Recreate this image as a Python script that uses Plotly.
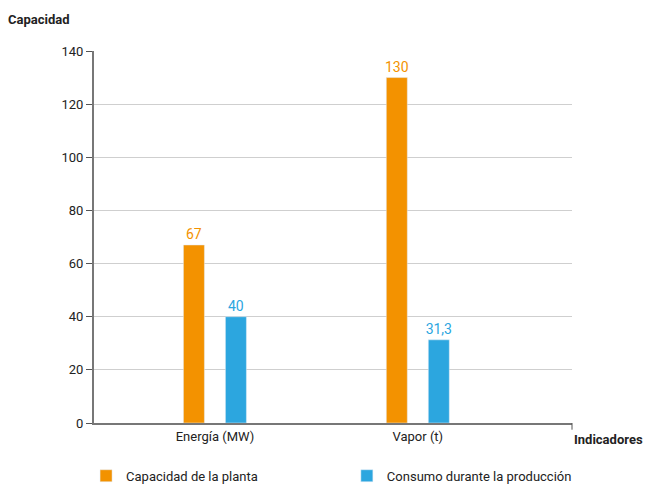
import plotly.graph_objects as go

categories = ["Energía (MW)", "Vapor (t)"]
cat_pos = [0, 1]
capacidad = [67, 130]
consumo = [40, 31.3]
series_names = ["Capacidad de la planta", "Consumo durante la producción"]
y_ticks = [0, 20, 40, 60, 80, 100, 120, 140]

ORANGE = "#F39200"
BLUE = "#2CA6DF"
FONT = "Roboto, Liberation Sans, sans-serif"

fig = go.Figure()
fig.add_trace(go.Bar(x=cat_pos, y=capacidad, name=series_names[0], marker_color=ORANGE,
                     texttemplate="%{y}", textposition="outside", cliponaxis=False,
                     constraintext="none", legend="legend",
                     textfont=dict(color=ORANGE, size=14, family=FONT)))
fig.add_trace(go.Bar(x=cat_pos, y=consumo, name=series_names[1], marker_color=BLUE,
                     texttemplate="%{y}", textposition="outside", cliponaxis=False,
                     constraintext="none", legend="legend2",
                     textfont=dict(color=BLUE, size=14, family=FONT)))

legend_style = dict(orientation="h", xref="container", yref="container",
                    y=0.029, xanchor="left", yanchor="middle",
                    font=dict(size=13, family=FONT, color="#222"), bgcolor="rgba(0,0,0,0)")

x_end = 1.76
fig.update_layout(
    width=652, height=490,
    margin=dict(l=94, r=80, t=51, b=67, autoexpand=False),
    paper_bgcolor="white", plot_bgcolor="white",
    barmode="group", bargap=0.586, bargroupgap=0.5,
    separators=",.",
    font=dict(family=FONT, color="#222"),
    showlegend=True,
    legend=dict(legend_style, x=0.132),
    legend2=dict(legend_style, x=0.532),
    xaxis=dict(range=[-0.596, x_end], tickvals=cat_pos, ticktext=categories,
               showline=True, linecolor="#777", linewidth=2, ticks="", showgrid=False,
               zeroline=False, tickfont=dict(size=13, family=FONT, color="#222")),
    yaxis=dict(range=[0, 140], tickvals=y_ticks, showline=True, linecolor="#777", linewidth=2,
               ticks="outside", ticklen=6, tickcolor="#555", tickwidth=1,
               showgrid=True, gridcolor="#cfcfcf", gridwidth=1, zeroline=False,
               tickfont=dict(size=13, family=FONT, color="#222")),
    annotations=[
        dict(text="<b>Capacidad</b>", xref="paper", yref="paper", x=-0.185, y=1.06,
             xanchor="left", yanchor="bottom", showarrow=False,
             font=dict(size=13, family=FONT, color="#222")),
        dict(text="<b>Indicadores</b>", xref="paper", yref="paper", x=1.0, y=-0.018,
             xanchor="left", yanchor="top", showarrow=False,
             font=dict(size=13, family=FONT, color="#222")),
    ],
    shapes=[
        dict(type="line", xref="paper", yref="y domain", x0=1.0, x1=1.0, y0=0, y1=-0.018,
             line=dict(color="#555", width=1)),
    ],
)

fig.write_html("out.html")
